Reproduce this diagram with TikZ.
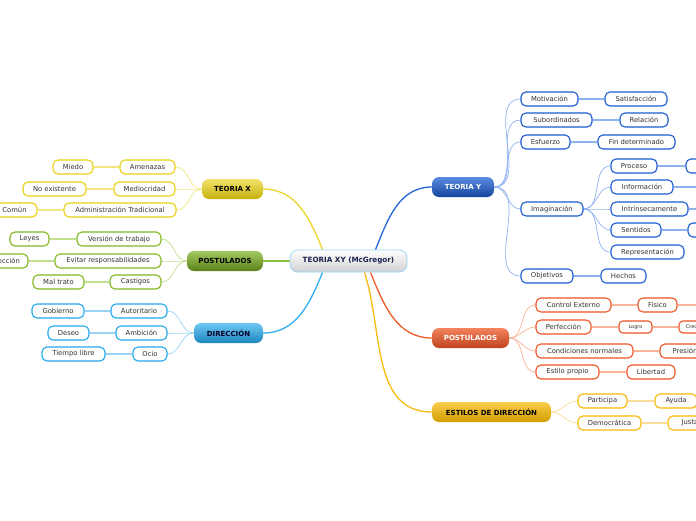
\documentclass[tikz,border=0pt]{standalone}
\usepackage{fontspec}
\setmainfont{DejaVu Sans}
\pgfdeclarelayer{bg}
\pgfsetlayers{bg,main}
\definecolor{yB}{HTML}{E8D010}\definecolor{yL}{HTML}{F2E680}\definecolor{yM}{HTML}{EED428}
\definecolor{gB}{HTML}{80B820}\definecolor{gL}{HTML}{C2DE90}\definecolor{gM}{HTML}{8CBE3A}
\definecolor{bB}{HTML}{22A8EC}\definecolor{bL}{HTML}{9AD4F4}\definecolor{bM}{HTML}{30B0F0}
\definecolor{tB}{HTML}{1A5CD0}\definecolor{tL}{HTML}{8EB2F0}\definecolor{tM}{HTML}{2266D8}
\definecolor{oB}{HTML}{EE5424}\definecolor{oL}{HTML}{F8B498}\definecolor{oM}{HTML}{F05A28}
\definecolor{eB}{HTML}{F6B800}\definecolor{eL}{HTML}{F8DC98}\definecolor{eM}{HTML}{F8BC10}
\tikzset{
  sub/.style={draw=#1, fill=white, rounded corners=5pt, line width=1.1pt, minimum height=14pt, inner sep=0pt, font=\fontsize{6.8}{8}\selectfont, text=black!80},
  mainn/.style={rounded corners=7pt, minimum height=20pt, inner sep=0pt, font=\bfseries\fontsize{7}{8}\selectfont},
  lk/.style={draw=#1, line width=0.7pt},
  gl/.style={draw=#1, line width=1.4pt},
  br/.style={draw=#1, line width=1.3pt}
}
\begin{document}
\begin{tikzpicture}[x=1pt,y=1pt]
\useasboundingbox (0,0) rectangle (696,-520);
\clip (0,0) rectangle (696,-520);
\begin{pgfonlayer}{bg}
\fill[white] (0,0) rectangle (696,-520);
\end{pgfonlayer}
% central
\node[rounded corners=8pt, draw=bL, line width=0.8pt, top color=white, bottom color=black!18, minimum width=117pt, minimum height=22pt, inner sep=0pt, font=\bfseries\fontsize{7.2}{8}\selectfont, text={rgb,255:red,26;green,36;blue,80}] (c) at (348.5,-261) {TEORIA XY (McGregor)};
% main nodes
\node[mainn, top color=yM!70!white, bottom color=yB!85!black, minimum width=61pt, text=black] (tx) at (232.5,-189) {TEORIA X};
\node[mainn, top color=gM!80!white, bottom color=gB!70!black, minimum width=76pt, text=black] (pg) at (225,-261) {POSTULADOS};
\node[mainn, top color=bM!70!white, bottom color=bB!80!black, minimum width=69pt, text=black!85!blue] (di) at (228.5,-333) {DIRECCIÓN};
\node[mainn, top color=tM!75!white, bottom color=tB!75!black, minimum width=62pt, text=white] (ty) at (463,-187) {TEORIA Y};
\node[mainn, top color=oM!75!white, bottom color=oB!80!black, minimum width=77pt, text=white] (po) at (470.5,-338) {POSTULADOS};
\node[mainn, top color=eM!75!white, bottom color=eB!85!black, minimum width=119pt, text=black] (ed) at (491.5,-412) {ESTILOS DE DIRECCIÓN};
% TEORIA X
\node[sub=yB, minimum width=55pt] (am) at (147.5,-167) {Amenazas};
\node[sub=yB, minimum width=40pt] (mi) at (73,-167) {Miedo};
\node[sub=yB, minimum width=61pt] (me) at (144.5,-189) {Mediocridad};
\node[sub=yB, minimum width=63pt] (ne) at (54.5,-189) {No existente};
\node[sub=yB, minimum width=112pt] (at) at (120,-210) {Administración Tradicional};
\node[sub=yB, minimum width=45pt] (co) at (14.5,-210) {Común};
% POSTULADOS green
\node[sub=gB, minimum width=84pt] (vt) at (119,-239) {Versión de trabajo};
\node[sub=gB, minimum width=39pt] (le) at (29.5,-239) {Leyes};
\node[sub=gB, minimum width=106pt] (er) at (108,-261) {Evitar responsabilidades};
\node[sub=gB, minimum width=48pt] (dr) at (4,-261) {Dirección};
\node[sub=gB, minimum width=51pt] (ca) at (135.5,-282) {Castigos};
\node[sub=gB, minimum width=51pt] (mt) at (58.5,-282) {Mal trato};
% DIRECCION
\node[sub=bB, minimum width=56pt] (au) at (139,-311) {Autoritario};
\node[sub=bB, minimum width=52pt] (go) at (58,-311) {Gobierno};
\node[sub=bB, minimum width=51pt] (ab) at (141.5,-333) {Ambición};
\node[sub=bB, minimum width=41pt] (de) at (68.5,-333) {Deseo};
\node[sub=bB, minimum width=34pt] (oc) at (150,-354) {Ocio};
\node[sub=bB, minimum width=63pt] (tl) at (73.5,-354) {Tiempo libre};
% TEORIA Y
\node[sub=tB, minimum width=57pt] (mo) at (549.5,-99) {Motivación};
\node[sub=tB, minimum width=62pt] (sa) at (636,-99) {Satisfacción};
\node[sub=tB, minimum width=71pt] (su) at (556.5,-120) {Subordinados};
\node[sub=tB, minimum width=48pt] (re) at (644,-120) {Relación};
\node[sub=tB, minimum width=49pt] (es) at (545.5,-142) {Esfuerzo};
\node[sub=tB, minimum width=77pt] (fd) at (636.5,-142) {Fin determinado};
\node[sub=tB, minimum width=62pt] (im) at (552,-209) {Imaginación};
\node[sub=tB, minimum width=46pt] (pr) at (634,-166) {Proceso};
\node[sub=tB, minimum width=48pt] (prx) at (710,-166) {};
\node[sub=tB, minimum width=62pt] (in) at (642,-187) {Información};
\node[sub=tB, minimum width=40pt] (inx) at (722,-187) {};
\node[sub=tB, minimum width=77pt] (it) at (649.5,-209) {Intrínsecamente};
\node[sub=tB, minimum width=30pt] (itx) at (720,-209) {};
\node[sub=tB, minimum width=50pt] (se) at (636,-230) {Sentidos};
\node[sub=tB, minimum width=48pt] (sex) at (712,-230) {};
\node[sub=tB, minimum width=73pt] (rp) at (647.5,-252) {Representación};
\node[sub=tB, minimum width=52pt] (ob) at (547,-276) {Objetivos};
\node[sub=tB, minimum width=45pt] (he) at (623.5,-276) {Hechos};
% POSTULADOS orange
\node[sub=oB, minimum width=75pt] (ce) at (573.5,-305) {Control Externo};
\node[sub=oB, minimum width=39pt] (fi) at (657.5,-305) {Fisico};
\node[sub=oB, minimum width=30pt] (fix) at (722,-305) {};
\node[sub=oB, minimum width=55pt] (pe) at (563.5,-327) {Perfección};
\node[sub=oB, minimum width=33pt, minimum height=12pt, rounded corners=4pt, font=\fontsize{5}{6}\selectfont] (lo) at (635.5,-327) {Logro};
\node[sub=oB, minimum width=44pt, minimum height=12pt, rounded corners=4pt, font=\fontsize{5}{6}\selectfont] (cr) at (701,-327) {Crecimiento};
\node[sub=oB, minimum width=97pt] (cn) at (584.5,-351) {Condiciones normales};
\node[sub=oB, minimum width=50pt] (ps) at (685,-351) {Presión};
\node[sub=oB, minimum width=63pt] (ep) at (567.5,-372) {Estilo propio};
\node[sub=oB, minimum width=48pt] (li) at (651,-372) {Libertad};
% ESTILOS
\node[sub=eB, minimum width=49pt] (pa) at (602.5,-401) {Participa};
\node[sub=eB, minimum width=42pt] (ay) at (676,-401) {Ayuda};
\node[sub=eB, minimum width=63pt] (dm) at (609.5,-423) {Democrática};
\node[sub=eB, minimum width=44pt] (ju) at (690,-423) {Justa};
\begin{pgfonlayer}{bg}
% main branches
\draw[br=yM] ([xshift=-26pt]c.north) to[out=112,in=0] (tx.east);
\draw[br=gM] (c.west) -- (pg.east);
\draw[br=bM] ([xshift=-26pt]c.south) to[out=-112,in=0] (di.east);
\draw[br=tM] ([xshift=27pt]c.north) to[out=68,in=180] (ty.west);
\draw[br=oM] ([xshift=22pt]c.south) to[out=-68,in=180] (po.west);
\draw[br=eM] ([xshift=16pt]c.south) to[out=-72,in=180] (ed.west);
% TEORIA X
\foreach \a in {am,me,at} \draw[lk=yL] (tx.west) to[out=180,in=0] (\a.east);
\draw[gl=yL] (am.west) -- (mi.east);
\draw[gl=yL] (me.west) -- (ne.east);
\draw[gl=yL] (at.west) -- (co.east);
% green
\foreach \a in {vt,er,ca} \draw[lk=gL] (pg.west) to[out=180,in=0] (\a.east);
\draw[gl=gL] (vt.west) -- (le.east);
\draw[gl=gL] (er.west) -- (dr.east);
\draw[gl=gL] (ca.west) -- (mt.east);
% blue
\foreach \a in {au,ab,oc} \draw[lk=bL] (di.west) to[out=180,in=0] (\a.east);
\draw[gl=bL] (au.west) -- (go.east);
\draw[gl=bL] (ab.west) -- (de.east);
\draw[gl=bL] (oc.west) -- (tl.east);
% TEORIA Y
\foreach \a in {mo,su,es,im,ob} \draw[lk=tL] (ty.east) to[out=0,in=180] (\a.west);
\foreach \a in {pr,in,it,se,rp} \draw[lk=tL] (im.east) to[out=0,in=180] (\a.west);
\draw[gl=tL] (mo.east) -- (sa.west);
\draw[gl=tL] (su.east) -- (re.west);
\draw[gl=tL] (es.east) -- (fd.west);
\draw[gl=tL] (pr.east) -- (prx.west);
\draw[gl=tL] (in.east) -- (inx.west);
\draw[gl=tL] (it.east) -- (itx.west);
\draw[gl=tL] (se.east) -- (sex.west);
\draw[gl=tL] (ob.east) -- (he.west);
% orange
\foreach \a in {ce,pe,cn,ep} \draw[lk=oL] (po.east) to[out=0,in=180] (\a.west);
\draw[gl=oL] (ce.east) -- (fi.west);
\draw[gl=oL] (fi.east) -- (fix.west);
\draw[gl=oL] (pe.east) -- (lo.west);
\draw[gl=oL] (lo.east) -- (cr.west);
\draw[gl=oL] (cn.east) -- (ps.west);
\draw[gl=oL] (ep.east) -- (li.west);
% estilos
\foreach \a in {pa,dm} \draw[lk=eL] (ed.east) to[out=0,in=180] (\a.west);
\draw[gl=eL] (pa.east) -- (ay.west);
\draw[gl=eL] (dm.east) -- (ju.west);
\end{pgfonlayer}
\end{tikzpicture}
\end{document}
